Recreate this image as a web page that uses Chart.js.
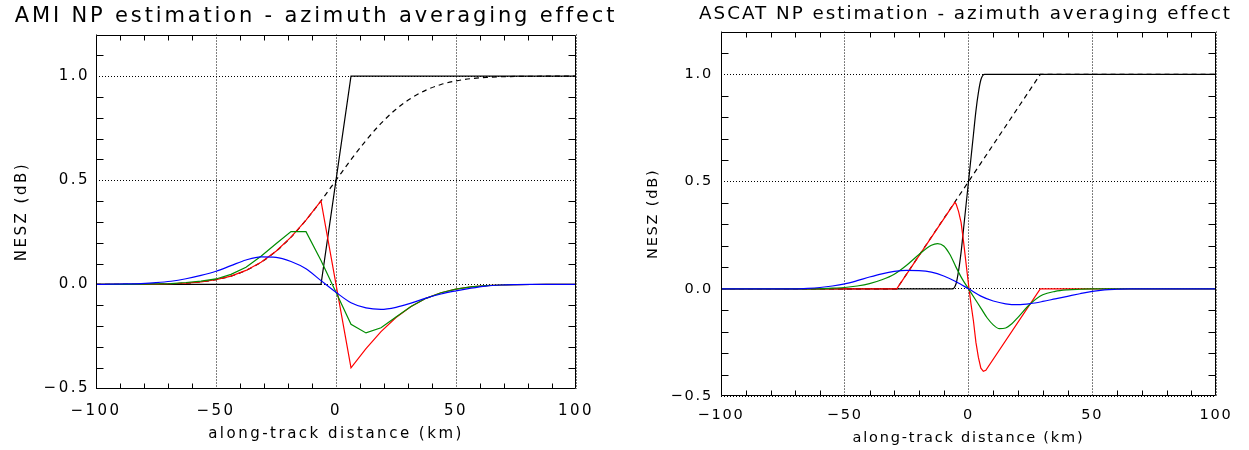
<!DOCTYPE html>
<html>
<head>
<meta charset="utf-8">
<title>NP estimation - azimuth averaging effect</title>
<script src="https://cdn.jsdelivr.net/npm/chart.js@4.4.1/dist/chart.umd.min.js"></script>
<style>
	body { margin: 0; background: #fff; }
	.row { display: flex; width: 1249px; height: 450px; }
	canvas { display: block; }
</style>
</head>
<body>
<div class="row">
	<canvas id="amiChart" width="624" height="450"></canvas>
	<canvas id="ascatChart" width="625" height="450"></canvas>
</div>
<script>
// axis ticks shared by both panels
const xTickValues = [-100, -50, 0, 50, 100]
const xTickLabels = ['\u2212100', '\u221250', '0', '50', '100']
const yTickValues = [-0.5, 0, 0.5, 1]
const yTickLabels = ['\u22120.5', '0.0', '0.5', '1.0']

// AMI panel (sampled every 6.25 km)
const amiTitle = 'AMI NP estimation - azimuth averaging effect'
const amiX = [-100, -93.75, -87.5, -81.25, -75, -68.75, -62.5, -56.25, -50, -43.75, -37.5, -31.25, -25, -18.75, -12.5, -6.25,
	0, 6.25, 12.5, 18.75, 25, 31.25, 37.5, 43.75, 50, 56.25, 62.5, 68.75, 75, 81.25, 87.5, 93.75, 100]
const amiDashed = [0, 0, 0.0002, 0.0006, 0.0013, 0.003, 0.006, 0.012, 0.023, 0.04, 0.067, 0.106, 0.159, 0.227, 0.309, 0.401,
	0.5, 0.599, 0.691, 0.773, 0.841, 0.894, 0.933, 0.96, 0.977, 0.988, 0.994, 0.997, 0.9987, 0.9994, 0.9998, 1, 1]
const amiRed = [0, 0, 0.0002, 0.0006, 0.0013, 0.003, 0.006, 0.012, 0.023, 0.04, 0.067, 0.106, 0.159, 0.227, 0.309, 0.401,
	0, -0.401, -0.309, -0.227, -0.159, -0.106, -0.067, -0.04, -0.023, -0.012, -0.006, -0.003, -0.0013, -0.0006, -0.0002, 0, 0]
const amiGreen = [0, 0, 0.0005, 0.001, 0.002, 0.004, 0.009, 0.016, 0.026, 0.048, 0.082, 0.135, 0.195, 0.254, 0.253, 0.115,
	-0.038, -0.192, -0.233, -0.208, -0.157, -0.106, -0.067, -0.04, -0.023, -0.012, -0.006, -0.003, -0.0013, -0.0006, 0, 0, 0]
const amiBlue = [0, 0.001, 0.002, 0.004, 0.008, 0.015, 0.027, 0.043, 0.063, 0.09, 0.117, 0.132, 0.13, 0.11, 0.075, 0.018,
	-0.038, -0.088, -0.113, -0.12, -0.11, -0.09, -0.066, -0.046, -0.031, -0.018, -0.008, -0.003, -0.001, 0, 0, 0, 0]
const amiBlackX = [-100, -6.25, 6.25, 100]
const amiBlack = [0, 0, 1, 1]

// ASCAT panel
const ascatTitle = 'ASCAT NP estimation - azimuth averaging effect'
const ascatDashedX = [-100, -29, 29, 100]
const ascatDashed = [0, 0, 1, 1]
const ascatBlackX = [-100, -6.5, -5, -4, -3, -2, -1, 0, 1, 2, 3, 4, 5, 6.5, 100]
const ascatBlack = [0, 0, 0.025, 0.085, 0.17, 0.28, 0.39, 0.5, 0.61, 0.72, 0.83, 0.915, 0.975, 1, 1]
const ascatRedX = [-100, -29, -5.5, -5, -4, -3, -2, -1, 0, 1, 2, 3, 4, 5, 6, 7, 29, 100]
const ascatRed = [0, 0, 0.403, 0.395, 0.36, 0.31, 0.22, 0.12, 0.02, -0.07, -0.15, -0.25, -0.32, -0.37, -0.385, -0.38, 0, 0]
const ascatGreenX = [-100, -60, -55, -50, -45, -40, -35, -30, -25, -20, -15, -12.5, -10, -7.5, -5, -2.5,
	0, 2.5, 5, 7.5, 10, 12.5, 15, 17.5, 20, 25, 30, 35, 40, 45, 50, 100]
const ascatGreen = [0, 0, 0.003, 0.006, 0.013, 0.024, 0.042, 0.068, 0.11, 0.16, 0.203, 0.211, 0.2, 0.16, 0.1, 0.045,
	0, -0.045, -0.09, -0.135, -0.168, -0.186, -0.183, -0.163, -0.133, -0.07, -0.028, -0.012, -0.005, -0.002, 0, 0]
const ascatBlueX = [-100, -70, -65, -60, -55, -50, -45, -40, -35, -30, -25, -20, -15, -10, -5,
	0, 5, 10, 15, 20, 25, 30, 35, 40, 45, 50, 55, 60, 65, 100]
const ascatBlue = [0, 0, 0.002, 0.006, 0.013, 0.023, 0.038, 0.055, 0.07, 0.081, 0.086, 0.085, 0.078, 0.06, 0.033,
	0, -0.034, -0.057, -0.07, -0.074, -0.069, -0.059, -0.047, -0.035, -0.023, -0.012, -0.005, -0.002, 0, 0]

const FONT = 'DejaVu Sans'
const GREEN = 'rgb(0, 140, 0)'

function line(xs, ys, color, extra) {
	return Object.assign({
		data: xs.map((x, i) => ({ x: x, y: ys[i] })),
		borderColor: color,
		borderWidth: 1.2,
		pointRadius: 0,
		fill: false,
		tension: 0
	}, extra)
}

// canvas letter spacing (IDL vector font is wide); the title gets its own spacing and span
const spacing = {
	id: 'spacing',
	beforeLayout(chart, args, opts) { chart.ctx.letterSpacing = opts.value },
	beforeDraw(chart, args, opts) {
		chart.ctx.letterSpacing = opts.value
		const block = chart.titleBlock
		if (block && !block._spaced) {
			const draw = block.draw.bind(block)
			block.draw = (area) => {
				const l = block.left
				const r = block.right
				block.left = opts.span[0]
				block.right = opts.span[1]
				chart.ctx.save()
				chart.ctx.letterSpacing = opts.title
				draw(area)
				chart.ctx.restore()
				block.left = l
				block.right = r
			}
			block._spaced = true
		}
	}
}

// closed box with inward minor ticks, like IDL plots
const idlFrame = {
	id: 'idlFrame',
	afterDatasetsDraw(chart) {
		const { ctx, chartArea: a, scales } = chart
		const left = Math.round(a.left) + 0.5
		const right = Math.round(a.right) - 0.5
		const top = Math.round(a.top) + 0.5
		const bottom = Math.round(a.bottom) - 0.5
		ctx.save()
		ctx.strokeStyle = '#000'
		ctx.lineWidth = 1
		ctx.setLineDash([])
		ctx.beginPath()
		ctx.rect(left, top, right - left, bottom - top)
		for (let k = -9; k <= 9; k++) {
			if (k % 5 === 0) continue
			const px = Math.round(scales.x.getPixelForValue(k * 10)) + 0.5
			ctx.moveTo(px, bottom); ctx.lineTo(px, bottom - 5)
			ctx.moveTo(px, top); ctx.lineTo(px, top + 5)
		}
		for (let k = -4; k <= 11; k++) {
			if (k % 5 === 0) continue
			const py = Math.round(scales.y.getPixelForValue(k / 10)) + 0.5
			ctx.moveTo(left, py); ctx.lineTo(left + 7, py)
			ctx.moveTo(right, py); ctx.lineTo(right - 7, py)
		}
		ctx.stroke()
		ctx.restore()
	}
}

function makeChart(id, cfg) {
	const tickFont = { family: FONT, size: cfg.tickSize, lineHeight: 1.2 }
	const chart = new Chart(document.getElementById(id), {
		type: 'line',
		data: { datasets: cfg.datasets },
		plugins: [spacing, idlFrame],
		options: {
			animation: false,
			responsive: false,
			devicePixelRatio: 1,
			layout: { padding: { left: 0, right: cfg.padRight, top: 0, bottom: 0 } },
			plugins: {
				legend: { display: false },
				tooltip: { enabled: false },
				spacing: { value: cfg.letterSpacing, title: cfg.titleSpacing, span: cfg.titleSpan },
				title: {
					display: true,
					text: cfg.title,
					color: '#000',
					font: { family: FONT, size: cfg.titleSize, weight: 'normal', lineHeight: 1.2 },
					padding: { top: cfg.titleTop, bottom: cfg.titleBottom }
				}
			},
			scales: {
				x: {
					type: 'linear',
					min: -100,
					max: 100,
					afterBuildTicks: (s) => { s.ticks = xTickValues.map(v => ({ value: v })) },
					afterFit: (s) => { s.height = cfg.xHeight },
					ticks: {
						color: '#000',
						font: tickFont,
						padding: cfg.xTickPad,
						maxRotation: 0,
						autoSkip: false,
						callback: (v) => xTickLabels[xTickValues.indexOf(v)]
					},
					grid: { color: '#000', lineWidth: 1, drawTicks: false },
					border: { display: false, dash: [1, 2] },
					title: {
						display: true,
						text: 'along-track distance (km)',
						color: '#000',
						font: tickFont,
						padding: { top: 0, bottom: cfg.xTitlePad }
					}
				},
				y: {
					type: 'linear',
					min: -0.5,
					max: 1.2,
					afterBuildTicks: (s) => { s.ticks = yTickValues.map(v => ({ value: v })) },
					afterFit: (s) => { s.width = cfg.yWidth },
					ticks: {
						color: '#000',
						font: tickFont,
						padding: cfg.yTickPad,
						autoSkip: false,
						callback: (v) => yTickLabels[yTickValues.indexOf(v)]
					},
					grid: { color: '#000', lineWidth: 1, drawTicks: false },
					border: { display: false, dash: [1, 2] },
					title: {
						display: true,
						text: 'NESZ (dB)',
						color: '#000',
						font: tickFont,
						padding: { top: cfg.yTitlePad, bottom: 0 }
					}
				}
			}
		}
	})
	chart.draw()
	return chart
}

makeChart('amiChart', {
	title: amiTitle,
	titleSize: 21, titleTop: 4, titleBottom: 5.3, titleSpacing: '2.85px', titleSpan: [0, 632],
	tickSize: 15, letterSpacing: '2.5px',
	padRight: 48, xHeight: 61.5, yWidth: 96,
	xTickPad: 14, yTickPad: 6, xTitlePad: 7, yTitlePad: 13,
	datasets: [
		line(amiBlackX, amiBlack, '#000', { order: 4 }),
		line(amiX, amiDashed, '#000', { order: 3, borderDash: [5, 4], cubicInterpolationMode: 'monotone' }),
		line(amiX, amiRed, '#ff0000', { order: 2 }),
		line(amiX, amiGreen, GREEN, { order: 1 }),
		line(amiX, amiBlue, '#0000ff', { order: 0, cubicInterpolationMode: 'monotone' })
	]
})

makeChart('ascatChart', {
	title: ascatTitle,
	titleSize: 18.3, titleTop: 3, titleBottom: 6.6, titleSpacing: '2px', titleSpan: [0, 683],
	tickSize: 14.5, letterSpacing: '1.8px',
	padRight: 33, xHeight: 54, yWidth: 97,
	xTickPad: 11, yTickPad: 8, xTitlePad: 3, yTitlePad: 21,
	datasets: [
		line(ascatBlackX, ascatBlack, '#000', { order: 4, cubicInterpolationMode: 'monotone' }),
		line(ascatDashedX, ascatDashed, '#000', { order: 3, borderDash: [5, 4] }),
		line(ascatRedX, ascatRed, '#ff0000', { order: 2 }),
		line(ascatGreenX, ascatGreen, GREEN, { order: 1, cubicInterpolationMode: 'monotone' }),
		line(ascatBlueX, ascatBlue, '#0000ff', { order: 0, cubicInterpolationMode: 'monotone' })
	]
})
</script>
</body>
</html>
